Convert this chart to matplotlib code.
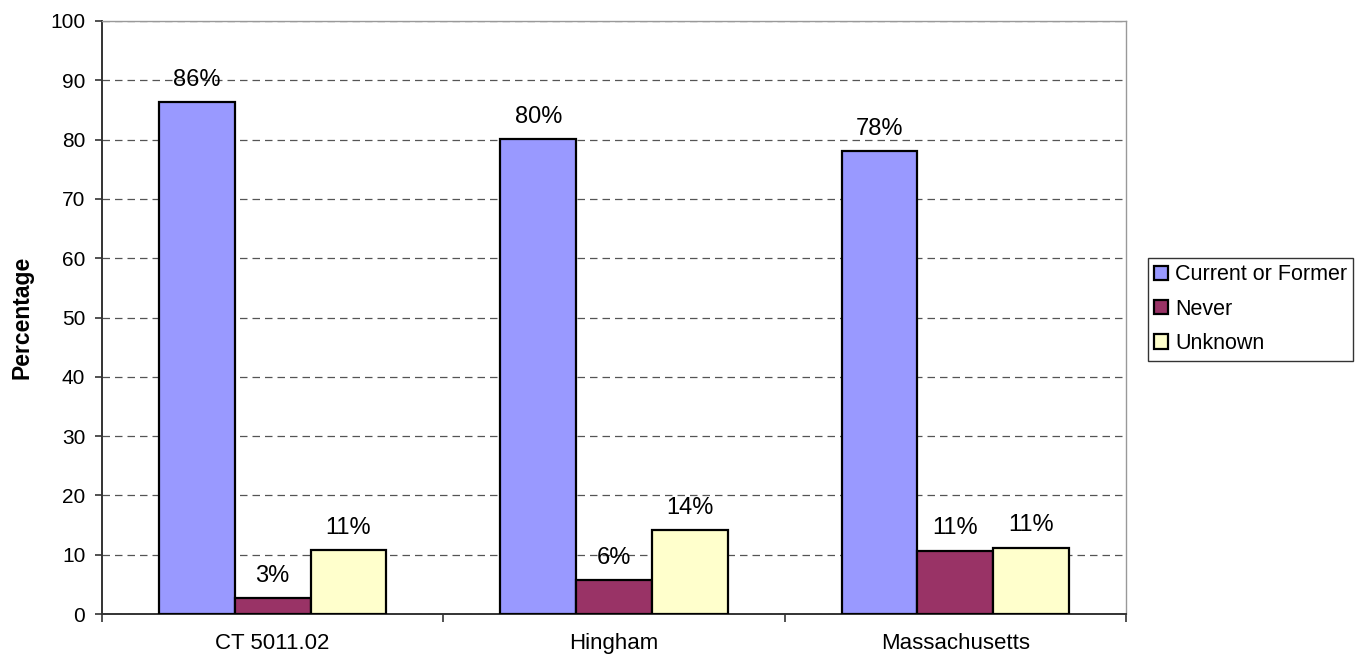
import numpy as np
import matplotlib

matplotlib.use("Agg")
import matplotlib.pyplot as plt

plt.rcParams["font.family"] = ["Liberation Sans", "DejaVu Sans"]

# values
categories = ["CT 5011.02", "Hingham", "Massachusetts"]
series_names = ["Current or Former", "Never", "Unknown"]
current_or_former = [86.4, 80.1, 78.0]
never = [2.7, 5.7, 10.7]
unknown = [10.8, 14.2, 11.2]
labels_current = ["86%", "80%", "78%"]
labels_never = ["3%", "6%", "11%"]
labels_unknown = ["11%", "14%", "11%"]

colors = ["#9999FF", "#993366", "#FFFFCC"]

fig = plt.figure(figsize=(13.56, 6.6), dpi=100)
ax = fig.add_axes([102 / 1356, 46 / 660, (1126 - 102) / 1356, (614 - 21) / 660])

x = np.arange(len(categories))
width = 0.222
series = [current_or_former, never, unknown]
labels = [labels_current, labels_never, labels_unknown]
for k, (vals, lab, col, name) in enumerate(zip(series, labels, colors, series_names)):
    pos = x + (k - 1) * width
    bars = ax.bar(pos, vals, width, color=col, edgecolor="black",
                  linewidth=1.6, label=name, zorder=3)
    for b, t in zip(bars, lab):
        ax.annotate(t, (b.get_x() + b.get_width() / 2, b.get_height()),
                    xytext=(0, 8), textcoords="offset points",
                    ha="center", va="bottom", fontsize=17, zorder=4)

ax.set_xlim(-0.5, len(categories) - 0.5)
ax.set_ylim(0, 100)
ax.set_yticks(np.arange(0, 101, 10))
ax.yaxis.grid(True, color="#555555", linestyle=(0, (6, 4)), linewidth=0.9, zorder=0)
ax.set_axisbelow(True)

ax.set_xticks(x)
ax.set_xticklabels(categories, fontsize=16)
ax.set_xticks(np.arange(-0.5, len(categories), 1.0), minor=True)
ax.tick_params(axis="x", which="major", length=0, pad=14)
ax.tick_params(axis="x", which="minor", length=6, width=1.2, direction="out", color="#333333")
ax.tick_params(axis="y", length=5, width=1.2, direction="out", labelsize=15, pad=7, color="#333333")

ax.set_ylabel("Percentage", fontsize=16.5, fontweight="bold", labelpad=12)

for side in ("left", "bottom"):
    ax.spines[side].set_color("#333333")
    ax.spines[side].set_linewidth(1.4)
for side in ("top", "right"):
    ax.spines[side].set_color("#999999")
    ax.spines[side].set_linewidth(1.0)

leg = fig.legend(loc="upper left", bbox_to_anchor=(1148 / 1356, (660 - 258) / 660),
                 fontsize=15.5, frameon=True, fancybox=False, borderaxespad=0,
                 handlelength=0.65, handleheight=0.65, handletextpad=0.3,
                 labelspacing=0.62, borderpad=0.3)
leg.get_frame().set_edgecolor("black")
leg.get_frame().set_linewidth(1.0)

fig.savefig("out.png", dpi=100)
